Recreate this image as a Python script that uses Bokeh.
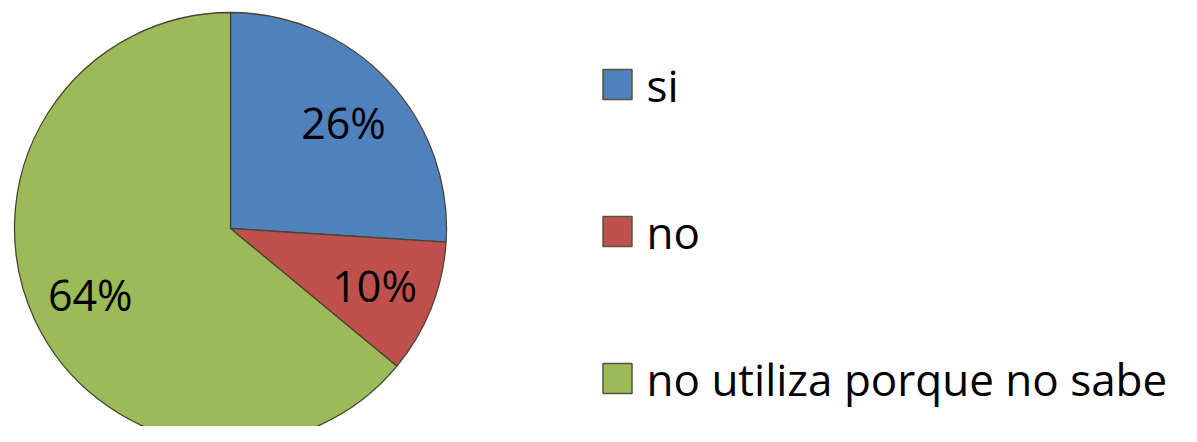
import math
from bokeh.plotting import figure
from bokeh.models import ColumnDataSource, Range1d
from bokeh.core.properties import value
from bokeh.embed import file_html
from bokeh.resources import INLINE

categories = ["si", "no", "no utiliza porque no sabe"]
percents = [26, 10, 64]
colors = ["#4F81BD", "#C0504D", "#9BBB59"]
labels = ["26%", "10%", "64%"]

W, H = 1181, 426
p = figure(width=W, height=H, output_backend="svg", toolbar_location=None,
           x_range=Range1d(0, W), y_range=Range1d(0, H), min_border=0)
p.axis.visible = False
p.grid.visible = False
p.outline_line_color = None
p.background_fill_color = "white"

cx, cy, r = 230, 198, 216
total = sum(percents)
starts, ends, lx, ly = [], [], [], []
acc = 0.0
for v in percents:
    a0 = math.pi / 2 - 2 * math.pi * acc / total
    a1 = math.pi / 2 - 2 * math.pi * (acc + v) / total
    starts.append(a0)
    ends.append(a1)
    mid = (a0 + a1) / 2
    lx.append(cx + 155 * math.cos(mid))
    ly.append(cy + 155 * math.sin(mid))
    acc += v

src = ColumnDataSource(dict(start=starts, end=ends, color=colors, lx=lx, ly=ly, label=labels))
p.wedge(x=cx, y=cy, radius=r, start_angle="start", end_angle="end", direction="clock",
        fill_color="color", line_color="#4a4530", line_width=1.3, source=src)
p.text(x="lx", y="ly", text="label", source=src, text_align="center", text_baseline="middle",
       text_font=value("Open Sans"), text_font_size="43px", text_color="black")

leg_y = [342, 195, 48]
leg = ColumnDataSource(dict(x=[617] * 3, y=leg_y, tx=[646] * 3, color=colors, name=categories))
p.rect(x="x", y="y", width=29, height=30, fill_color="color", line_color="#5a5238",
       line_width=1.5, source=leg)
p.text(x="tx", y="y", text="name", source=leg, text_align="left", text_baseline="middle",
       text_font=value("Open Sans"), text_font_size="44px", text_color="black")

open("out.html", "w").write(file_html(p, INLINE))
